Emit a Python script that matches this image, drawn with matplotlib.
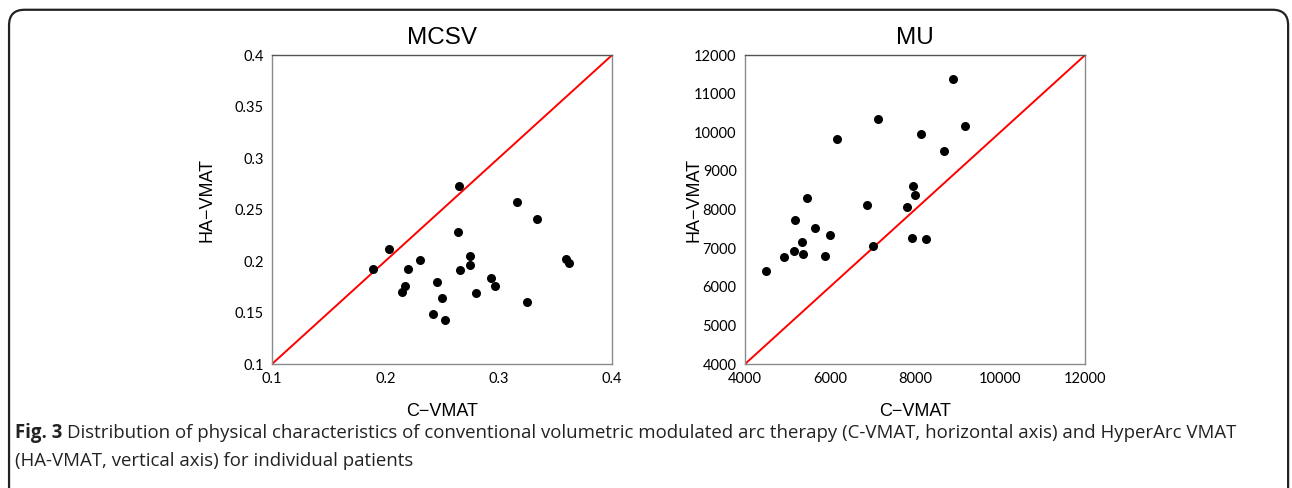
import matplotlib.pyplot as plt
from matplotlib.patches import FancyBboxPatch

# MCSV values (C-VMAT vs HA-VMAT)
mcsv_c = [0.189, 0.203, 0.215, 0.217, 0.220, 0.231, 0.242, 0.246, 0.250, 0.253,
          0.264, 0.265, 0.266, 0.275, 0.275, 0.280, 0.293, 0.297, 0.316, 0.325,
          0.334, 0.359, 0.362]
mcsv_ha = [0.192, 0.212, 0.170, 0.176, 0.192, 0.201, 0.149, 0.180, 0.164, 0.143,
           0.228, 0.273, 0.191, 0.205, 0.196, 0.169, 0.184, 0.176, 0.257, 0.160,
           0.241, 0.202, 0.198]

# MU values (C-VMAT vs HA-VMAT)
mu_c = [4486, 4925, 5145, 5169, 5333, 5373, 5451, 5639, 5882, 6000, 6173, 6871,
        7020, 7137, 7804, 7937, 7961, 7992, 8141, 8259, 8690, 8902, 9176]
mu_ha = [6402, 6773, 6937, 7732, 7162, 6851, 8302, 7525, 6799, 7335, 9840, 8121,
         7058, 10350, 8060, 7274, 8605, 8371, 9970, 7240, 9529, 11378, 10177]

mcsv_ticks = [0.1, 0.15, 0.2, 0.25, 0.3, 0.35, 0.4]
mcsv_xticks = [0.1, 0.2, 0.3, 0.4]
mu_ticks = [4000, 5000, 6000, 7000, 8000, 9000, 10000, 11000, 12000]
mu_xticks = [4000, 6000, 8000, 10000, 12000]

fig = plt.figure(figsize=(12.92, 4.88), dpi=100)

# rounded frame around the figure
box = FancyBboxPatch((0.007, -0.05), 0.990, 1.03, boxstyle="round,pad=0,rounding_size=0.012",
                     transform=fig.transFigure, fill=False, edgecolor="#222222", linewidth=1.6,
                     mutation_aspect=1292 / 488)
fig.patches.append(box)

tick_font = "Lato"
lab_font = "Liberation Sans"


def panel(rect, xs, ys, lims, yticks, xticks, ylabels, xlabels, title, ylab_x):
    ax = fig.add_axes(rect)
    ax.plot(lims, lims, color="#ff0000", linewidth=1.4, zorder=2)
    ax.scatter(xs, ys, s=30, color="black", zorder=3)
    ax.set_xlim(lims)
    ax.set_ylim(lims)
    ax.set_xticks(xticks)
    ax.set_yticks(yticks)
    ax.set_xticklabels(xlabels, fontfamily=tick_font, fontsize=10.5)
    ax.set_yticklabels(ylabels, fontfamily=tick_font, fontsize=10.5)
    ax.tick_params(length=0, pad=6)
    for s in ax.spines.values():
        s.set_color("#8a8a8a")
        s.set_linewidth(1.0)
    ax.spines["top"].set_color("#555555")
    ax.set_title(title, fontfamily=lab_font, fontsize=17.5, pad=8)
    ax.set_xlabel("C\u2212VMAT", fontfamily=lab_font, fontsize=13, labelpad=12)
    ax.set_ylabel("HA\u2212VMAT", fontfamily=lab_font, fontsize=13)
    ax.yaxis.set_label_coords(ylab_x, 0.53)
    return ax


panel([0.2105, 0.254, 0.2632, 0.633], mcsv_c, mcsv_ha, [0.1, 0.4], mcsv_ticks, mcsv_xticks,
      ["0.1", "0.15", "0.2", "0.25", "0.3", "0.35", "0.4"], ["0.1", "0.2", "0.3", "0.4"],
      "MCSV", -0.165)
panel([0.5766, 0.254, 0.2632, 0.633], mu_c, mu_ha, [4000, 12000], mu_ticks, mu_xticks,
      [str(t) for t in mu_ticks], [str(t) for t in mu_xticks], "MU", -0.125)

cap_font = "Open Sans"
cap_size = 13.4
fig.text(0.0116, 0.1025, "Fig. 3", fontfamily=cap_font, fontweight="bold", fontsize=cap_size,
         color="#222222", va="baseline")
fig.text(0.0116 + 0.0405, 0.1025,
         "Distribution of physical characteristics of conventional volumetric modulated arc therapy "
         "(C-VMAT, horizontal axis) and HyperArc VMAT",
         fontfamily=cap_font, fontsize=cap_size, color="#222222", va="baseline")
fig.text(0.0116, 0.045, "(HA-VMAT, vertical axis) for individual patients",
         fontfamily=cap_font, fontsize=cap_size, color="#222222", va="baseline")

fig.savefig("out.png", dpi=100)
